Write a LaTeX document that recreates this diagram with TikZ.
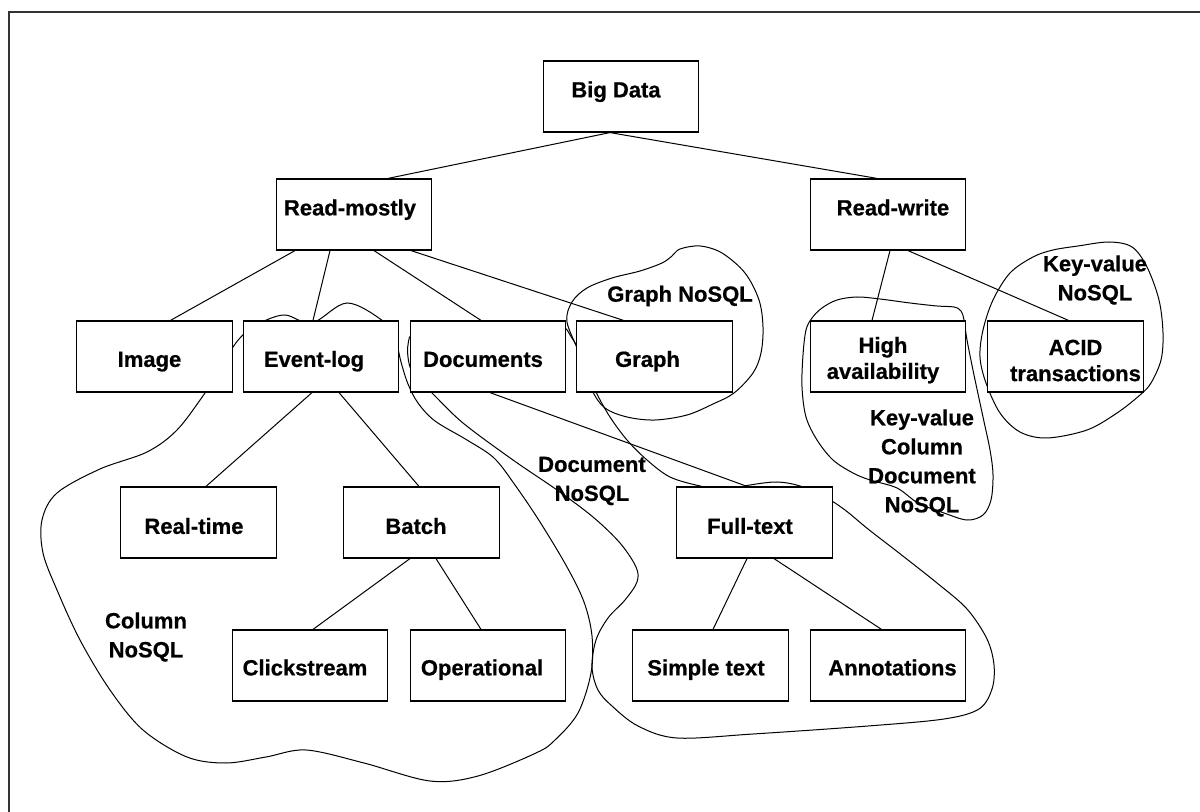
\documentclass[tikz,border=0pt]{standalone}
\usepackage{fontspec}
\setmainfont{Liberation Sans}[BoldFeatures={FakeBold=0.6}]
\usetikzlibrary{calc}
\newcommand\tsh[1]{\hspace*{#1pt}}
\begin{document}
\begin{tikzpicture}[x=0.5pt,y=-0.5pt,
  box/.style={draw, fill=white, line width=0.6pt, minimum width=77.75pt, minimum height=35.5pt,
    inner sep=0pt, font=\fontsize{11}{13}\selectfont\bfseries, align=center},
  rowa/.style={text height=0.9pt, text depth=0pt},
  rowc/.style={text height=10.4pt, text depth=0pt},
  rowd/.style={text height=11.4pt, text depth=0pt},
  rowe/.style={text height=9.9pt, text depth=0pt},
  lbl/.style={font=\fontsize{11}{14.5}\selectfont\bfseries, align=center, inner sep=0pt},
  con/.style={line width=0.5pt},
  blob/.style={line width=0.5pt},
  frame/.style={line width=0.8pt, black!80}]
\useasboundingbox (0,0) rectangle (1200,812);

% frame (top and left only)
\coordinate (ftl) at (9,12);
\coordinate (ftr) at (1201,12);
\coordinate (fbl) at (9,813);
\draw[frame] (ftr) -- (ftl) -- (fbl);

% Column NoSQL blob
\draw[blob] plot[smooth cycle, tension=0.55] coordinates {
 (233,347) (245,333) (262,322) (285,315) (312,323) (347,303) (383,321) (395,338)
 (401,362) (408,384) (418,403) (435,421) (467,440) (494,458) (515,485) (540,522)
 (567,567) (584,602) (592,636) (591,673) (578,713) (555,740) (536,753) (478,776)
 (430,781) (364,763) (306,750) (266,757) (226,763) (187,757) (143,730) (110,690)
 (80,640) (57,590) (43,553) (42,520) (57,493) (100,469) (147,452) (177,430)
 (205,393) (220,370)};

% Document NoSQL blob
\draw[blob] plot[smooth cycle, tension=0.55] coordinates {
 (432,393) (463,423) (513,460) (557,490) (593,517) (620,543) (636,567) (637,582)
 (625,600) (608,618) (596,640) (592,667) (598,690) (612,706) (638,726) (677,738)
 (753,734) (868,726) (944,719) (979,709) (992,689) (994,665) (987,639) (967,609)
 (937,583) (899,553) (868,529) (845,510) (825,497) (800,486) (777,482) (750,485)
 (725,490) (700,486) (670,477) (647,460) (627,440) (610,417) (596,392) (585,365)
 (572,338) (555,325) (480,326) (418,332) (408,345) (410,367) (420,382)};

% Graph NoSQL blob
\draw[blob] plot[smooth cycle, tension=0.55] coordinates {
 (567,322) (572,302) (587,288) (612,278) (640,271) (662,263) (672,256) (680,249)
 (700,246) (722,253) (745,273) (759,300) (763,327) (761,353) (753,373) (734,393)
 (713,404) (687,415) (655,420) (627,417) (605,408) (592,390) (580,355)};

% Key-value Column Document NoSQL blob
\draw[blob] plot[smooth cycle, tension=0.55] coordinates {
 (812,318) (822,308) (837,300) (857,297) (880,299) (910,303) (937,306) (954,307)
 (961,311) (964,320) (967,340) (974,375) (983,417) (990,450) (993,475) (991,500)
 (983,515) (967,520) (944,513) (918,503) (897,488) (870,480) (853,473) (833,460)
 (817,440) (806,417) (802,387) (803,355) (806,330)};

% Key-value NoSQL blob
\draw[blob] plot[smooth cycle, tension=0.55] coordinates {
 (1053,250) (1078,246) (1109,242) (1132,247) (1147,267) (1159,300) (1163,333)
 (1161,360) (1151,383) (1140,395) (1117,413) (1087,430) (1047,438) (1020,432)
 (1000,413) (986,383) (980,357) (983,330) (993,300) (1010,273) (1033,257)};

% boxes
\node[box, rowa] (bd) at (621,96.5) {\tsh{-5}Big Data};
\node[box, rowa] (rm) at (354,214.5) {\tsh{-4}Read-mostly};
\node[box, rowa] (rw) at (888,214.5) {\tsh{5}Read-write};
\node[box, rowc] (img) at (154.5,356.5) {\tsh{-5}Image};
\node[box, rowc] (ev) at (321,356.5) {\tsh{-7}Event-log};
\node[box, rowc] (doc) at (488,356.5) {\tsh{-5}Documents};
\node[box, rowc] (gr) at (654.5,356.5) {\tsh{-7}Graph};
\node[box] (ha) at (888,356.5) {\rule{0pt}{11.7pt}\tsh{-5}High\\\tsh{-5}availability};
\node[box] (acid) at (1065.5,356.5) {\rule{0pt}{11.7pt}\tsh{10}ACID\\\tsh{10}transactions};
\node[box, rowd] (rt) at (198.5,522.5) {\tsh{-4.5}Real-time};
\node[box, rowd] (bat) at (421.5,522.5) {\tsh{-5.5}Batch};
\node[box, rowd] (ft) at (754.5,522.5) {\tsh{-4.5}Full-text};
\node[box, rowe] (ck) at (310,665.5) {\tsh{-5}Clickstream};
\node[box, rowe] (op) at (488,665.5) {\tsh{-6}Operational};
\node[box, rowe] (st) at (710.5,665.5) {\tsh{-4.5}Simple text};
\node[box, rowe] (an) at (888,665.5) {\tsh{4.5}Annotations};

% connectors
\draw[con] ($(bd.south)+(-11,0)$) -- ($(rm.north)+(34,0)$);
\draw[con] ($(bd.south)+(-11,0)$) -- ($(rw.north)+(-11,0)$);
\draw[con] ($(rm.south)+(-59,0)$) -- ($(img.north)+(16,0)$);
\draw[con] ($(rm.south)+(-24,0)$) -- ($(ev.north)+(-8,0)$);
\draw[con] ($(rm.south)+(20,0)$) -- ($(doc.north)+(-7,0)$);
\draw[con] ($(rm.south)+(57,0)$) -- ($(gr.north)+(-31,0)$);
\draw[con] ($(rw.south)+(2,0)$) -- ($(ha.north)+(-16,0)$);
\draw[con] ($(rw.south)+(20,0)$) -- ($(acid.north)+(3,0)$);
\draw[con] ($(ev.south)+(-9,0)$) -- ($(rt.north)+(7.5,0)$);
\draw[con] ($(ev.south)+(18,0)$) -- ($(bat.north)+(-2.5,0)$);
\draw[con] ($(bat.south)+(-11.5,0)$) -- ($(ck.north)+(3,0)$);
\draw[con] ($(bat.south)+(14.5,0)$) -- ($(op.north)+(-7,0)$);
\draw[con] ($(doc.south)+(2,0)$) -- ($(ft.north)+(-7.5,0)$);
\draw[con] ($(ft.south)+(-7.5,0)$) -- ($(st.north)+(2.5,0)$);
\draw[con] ($(ft.south)+(19.5,0)$) -- ($(an.north)+(-6.5,0)$);

% free labels
\node[lbl] (lgraph) at (680,296) {Graph NoSQL};
\node[lbl] (lkv) at (1095,280) {Key-value\\NoSQL};
\node[lbl] (lkvcd) at (922,463) {Key-value\\Column\\Document\\NoSQL};
\node[lbl] (ldoc) at (592,481) {Document\\NoSQL};
\node[lbl] (lcol) at (146,637) {Column\\NoSQL};
\end{tikzpicture}
\end{document}
